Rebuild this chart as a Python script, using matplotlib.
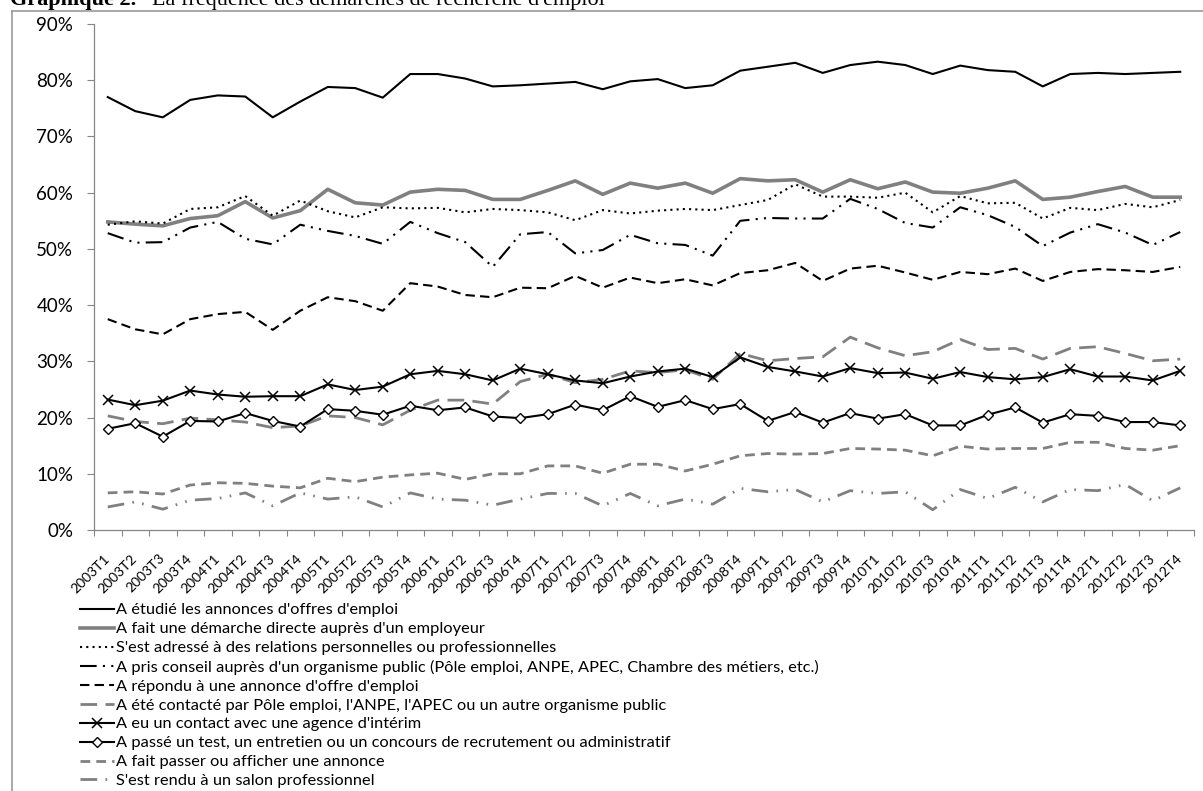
import numpy as np
import matplotlib
matplotlib.use("Agg")
import matplotlib.pyplot as plt
from matplotlib.lines import Line2D
from matplotlib.ticker import FixedLocator, PercentFormatter

plt.rcParams["font.family"] = ["Lato", "DejaVu Sans"]

# Quarters 2003T1 .. 2012T4
quarters = [f"{y}T{q}" for y in range(2003, 2013) for q in range(1, 5)]

etudie_annonces = [77.0, 74.5, 73.4, 76.5, 77.3, 77.1, 73.4, 76.2, 78.8, 78.6,
                   76.9, 81.1, 81.1, 80.3, 78.9, 79.1, 79.4, 79.7, 78.4, 79.8,
                   80.2, 78.6, 79.1, 81.7, 82.4, 83.1, 81.3, 82.7, 83.3, 82.7,
                   81.1, 82.6, 81.8, 81.5, 78.9, 81.1, 81.3, 81.1, 81.3, 81.5]
demarche_directe = [54.8, 54.4, 54.1, 55.4, 55.9, 58.4, 55.5, 56.8, 60.6, 58.2,
                    57.8, 60.1, 60.6, 60.4, 58.8, 58.8, 60.4, 62.1, 59.7, 61.7,
                    60.8, 61.7, 59.9, 62.5, 62.1, 62.3, 60.1, 62.3, 60.7, 61.9,
                    60.1, 59.9, 60.8, 62.1, 58.8, 59.2, 60.2, 61.1, 59.2, 59.2]
relations = [54.3, 54.9, 54.5, 57.1, 57.4, 59.4, 55.9, 58.6, 56.7, 55.6,
             57.4, 57.2, 57.3, 56.5, 57.1, 56.9, 56.5, 55.1, 56.9, 56.3,
             56.8, 57.1, 56.9, 57.8, 58.7, 61.5, 59.3, 59.3, 59.1, 60.0,
             56.5, 59.4, 58.1, 58.2, 55.4, 57.3, 56.9, 58.0, 57.4, 58.7]
conseil_public = [52.8, 51.1, 51.2, 53.8, 54.8, 51.8, 50.8, 54.3, 53.2, 52.3,
                  50.9, 54.8, 52.8, 51.2, 46.8, 52.6, 53.0, 49.2, 49.8, 52.5,
                  51.0, 50.7, 48.8, 55.0, 55.5, 55.4, 55.4, 58.9, 57.1, 54.6,
                  53.8, 57.4, 56.0, 53.9, 50.5, 52.9, 54.4, 52.9, 50.7, 53.0]
repondu_annonce = [37.5, 35.7, 34.8, 37.5, 38.4, 38.8, 35.6, 39.0, 41.4, 40.7,
                   39.0, 43.9, 43.3, 41.8, 41.4, 43.1, 43.0, 45.2, 43.1, 44.9,
                   43.9, 44.6, 43.5, 45.7, 46.2, 47.5, 44.3, 46.5, 47.0, 45.8,
                   44.5, 45.9, 45.5, 46.5, 44.3, 45.9, 46.4, 46.2, 45.9, 46.8]
contacte_public = [20.3, 19.3, 18.9, 19.9, 19.6, 19.2, 18.2, 18.5, 20.3, 20.0,
                   18.7, 21.3, 23.1, 23.1, 22.4, 26.4, 27.7, 26.2, 26.8, 28.3,
                   28.0, 28.5, 26.8, 31.4, 30.1, 30.5, 30.8, 34.3, 32.4, 31.0,
                   31.7, 33.9, 32.1, 32.3, 30.4, 32.3, 32.6, 31.4, 30.1, 30.4]
agence_interim = [23.2, 22.2, 23.0, 24.8, 24.1, 23.7, 23.8, 23.8, 25.9, 24.9,
                  25.5, 27.7, 28.3, 27.7, 26.6, 28.7, 27.7, 26.6, 26.1, 27.3,
                  28.2, 28.7, 27.2, 30.7, 29.0, 28.2, 27.3, 28.8, 27.9, 28.0,
                  26.9, 28.1, 27.2, 26.8, 27.2, 28.6, 27.3, 27.3, 26.6, 28.3]
passe_test = [18.0, 19.0, 16.6, 19.4, 19.3, 20.8, 19.4, 18.4, 21.5, 21.2,
              20.5, 22.1, 21.3, 21.8, 20.2, 19.9, 20.6, 22.3, 21.3, 23.8,
              21.9, 23.1, 21.5, 22.4, 19.4, 21.0, 19.1, 20.8, 19.8, 20.6,
              18.6, 18.6, 20.5, 21.8, 19.1, 20.6, 20.3, 19.2, 19.2, 18.6]
fait_annonce = [6.6, 6.8, 6.4, 8.0, 8.4, 8.3, 7.8, 7.5, 9.2, 8.6,
                9.4, 9.8, 10.1, 9.0, 10.0, 10.0, 11.4, 11.4, 10.1, 11.7,
                11.7, 10.5, 11.7, 13.2, 13.6, 13.5, 13.6, 14.5, 14.4, 14.2,
                13.2, 14.9, 14.4, 14.5, 14.5, 15.6, 15.6, 14.5, 14.2, 15.0]
salon_pro = [4.1, 5.0, 3.7, 5.3, 5.6, 6.6, 4.3, 6.6, 5.5, 5.9,
             4.1, 6.6, 5.5, 5.3, 4.4, 5.5, 6.5, 6.5, 4.3, 6.5,
             4.3, 5.5, 4.6, 7.4, 6.8, 7.2, 5.0, 7.0, 6.5, 6.8,
             3.6, 7.2, 5.6, 7.6, 5.0, 7.2, 7.0, 8.1, 5.2, 7.5]

labels = [
    "A étudié les annonces d'offres d'emploi",
    "A fait une démarche directe auprès d'un employeur",
    "S'est adressé à des relations personnelles ou professionnelles",
    "A pris conseil auprès d'un organisme public (Pôle emploi, ANPE, APEC, Chambre des métiers, etc.)",
    "A répondu à une annonce d'offre d'emploi",
    "A été contacté par Pôle emploi, l'ANPE, l'APEC ou un autre organisme public",
    "A eu un contact avec une agence d'intérim",
    "A passé un test, un entretien ou un concours de recrutement ou administratif",
    "A fait passer ou afficher une annonce",
    "S'est rendu à un salon professionnel",
]
series = [etudie_annonces, demarche_directe, relations, conseil_public,
          repondu_annonce, contacte_public, agence_interim, passe_test,
          fait_annonce, salon_pro]

BLACK = "#000000"
GREY = "#808080"
styles = [
    dict(color=BLACK, lw=1.5, ls="-"),
    dict(color=GREY, lw=2.6, ls="-"),
    dict(color=BLACK, lw=1.5, ls=(0, (1, 2))),
    dict(color=BLACK, lw=1.5, ls=(0, (8, 3, 1, 3, 1, 3))),
    dict(color=BLACK, lw=1.5, ls=(0, (4.5, 2.5))),
    dict(color=GREY, lw=2.0, ls=(0, (6, 3))),
    dict(color=BLACK, lw=1.5, ls="-", marker="x", ms=7, mew=1.1),
    dict(color=BLACK, lw=1.5, ls="-", marker="D", ms=5.5, mew=1.0, mfc="white"),
    dict(color=GREY, lw=2.0, ls=(0, (3.5, 2.2))),
    dict(color=GREY, lw=2.0, ls=(0, (6, 3, 0.6, 3, 0.6, 3))),
]

W, H = 1203, 791
fig = plt.figure(figsize=(W / 100, H / 100), dpi=100)
ax = fig.add_axes([94 / W, 1 - 530 / H, 1100 / W, 506 / H])

x = np.arange(len(quarters))
for vals, lab, st in zip(series, labels, styles):
    ax.plot(x, vals, label=lab, **st)

ax.set_xlim(-0.5, len(quarters) - 0.5)
ax.set_ylim(0, 90)
ax.yaxis.set_major_locator(FixedLocator(np.arange(0, 91, 10)))
ax.yaxis.set_major_formatter(PercentFormatter(decimals=0))
ax.set_xticks(x)
ax.set_xticklabels(quarters, rotation=45, ha="right", va="center",
                   rotation_mode="anchor", fontsize=10)
ax.xaxis.set_minor_locator(FixedLocator(np.arange(-0.5, len(quarters), 1)))
ax.tick_params(axis="x", which="major", length=0, pad=19)
ax.tick_params(axis="x", which="minor", length=4, width=0.8, color="#868686")
ax.tick_params(axis="y", length=5, width=0.8, color="#868686", pad=10,
               labelsize=13.5)

for s in ["top", "right"]:
    ax.spines[s].set_visible(False)
for s in ["left", "bottom"]:
    ax.spines[s].set_color("#868686")
    ax.spines[s].set_linewidth(0.9)

leg = ax.legend(loc="upper left", bbox_to_anchor=(80 / W, 1 - 603 / H),
                bbox_transform=fig.transFigure, frameon=False, fontsize=11.8,
                handlelength=2.1, handletextpad=0.12, labelspacing=0.27,
                borderpad=0, borderaxespad=0, numpoints=1)

# outer frame (cut by the image edges)
fl, ft = 12 / W, 1 - 11 / H
fig.add_artist(Line2D([fl, fl], [-0.01, ft], transform=fig.transFigure,
                      color="#9a9a9a", lw=1.2))
fig.add_artist(Line2D([fl, 1.01], [ft, ft], transform=fig.transFigure,
                      color="#9a9a9a", lw=1.2))

# title, cut by the top edge
fig.text(10 / W, 1 - 5 / H, "Graphique 2.", family="Liberation Serif",
         weight="bold", fontsize=16, va="baseline")
fig.text(152 / W, 1 - 5 / H, "La fréquence des démarches de recherche d'emploi",
         family="Liberation Serif", fontsize=16, va="baseline")

fig.savefig("out.png", dpi=100)
